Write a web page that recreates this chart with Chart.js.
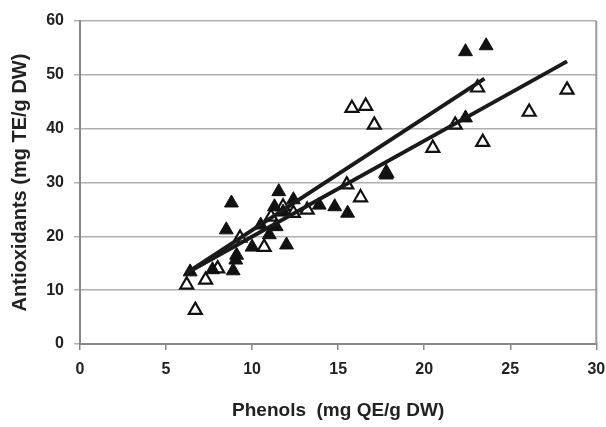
<!DOCTYPE html>
<html lang="en">

<head>
    <meta charset="UTF-8">
    <title>Phenols vs Antioxidants</title>
    <script src="https://cdn.jsdelivr.net/npm/chart.js@4.4.0/dist/chart.umd.min.js"></script>
    <style>
        body { margin: 0; background: #fff; }
        #wrap { width: 606px; height: 427px; }
    </style>
</head>

<body>
    <div id="wrap">
        <canvas id="scatter"></canvas>
    </div>

<script>
    // filled triangles
    const filled_x = [6.4, 7.7, 8.5, 8.8, 8.9, 9.05, 9.1, 10.0, 10.5, 11.0, 11.3, 11.55, 11.4, 11.8, 12.0, 12.4, 13.9, 14.8, 15.55, 17.8, 22.4, 22.4, 23.6];
    const filled_y = [13.4, 13.8, 21.2, 26.2, 13.6, 15.6, 16.5, 18.0, 22.1, 20.3, 25.5, 28.3, 21.8, 24.5, 18.4, 26.8, 25.8, 25.5, 24.3, 31.4, 42.0, 54.3, 55.4];

    // open triangles
    const open_x = [6.2, 6.7, 7.3, 8.0, 9.3, 10.7, 11.1, 11.8, 12.4, 13.2, 15.5, 16.3, 15.8, 16.6, 17.1, 17.8, 20.5, 21.8, 23.1, 23.4, 26.1, 28.3];
    const open_y = [11.0, 6.3, 11.9, 14.0, 19.7, 18.0, 23.6, 25.5, 24.3, 24.9, 29.6, 27.2, 43.8, 44.2, 40.7, 31.8, 36.4, 40.7, 47.6, 37.5, 43.1, 47.2];

    // regression lines (end points)
    const lineA_x = [6.2, 23.5];
    const lineA_y = [13.2, 49.3];
    const lineB_x = [6.2, 28.3];
    const lineB_y = [13.2, 52.5];

    const x_ticks = [0, 5, 10, 15, 20, 25, 30];
    const y_ticks = [0, 10, 20, 30, 40, 50, 60];

    function toPoints(xs, ys) {
        return xs.map((x, i) => ({ x: x, y: ys[i] }));
    }

    // grey frame line on the right side of the plot
    const rightBorder = {
        id: 'rightBorder',
        afterDraw(chart) {
            const { ctx, chartArea } = chart;
            ctx.save();
            ctx.strokeStyle = '#999';
            ctx.lineWidth = 2;
            ctx.beginPath();
            ctx.moveTo(chartArea.right, chartArea.top);
            ctx.lineTo(chartArea.right, chartArea.bottom);
            ctx.stroke();
            ctx.restore();
        }
    };

    const ctx = document.getElementById('scatter').getContext('2d');
    const myChart = new Chart(ctx, {
        type: 'scatter',
        data: {
            datasets: [{
                    type: 'line',
                    data: toPoints(lineA_x, lineA_y),
                    borderColor: '#1a1a1a',
                    borderWidth: 4,
                    pointRadius: 0,
                    fill: false,
                    order: 0,
                },
                {
                    type: 'line',
                    data: toPoints(lineB_x, lineB_y),
                    borderColor: '#1a1a1a',
                    borderWidth: 4,
                    pointRadius: 0,
                    fill: false,
                    order: 0,
                },
                {
                    data: toPoints(filled_x, filled_y),
                    pointStyle: 'triangle',
                    pointRadius: 8,
                    backgroundColor: '#111',
                    borderColor: '#111',
                    borderWidth: 1,
                    order: 1,
                },
                {
                    data: toPoints(open_x, open_y),
                    pointStyle: 'triangle',
                    pointRadius: 7.5,
                    backgroundColor: '#fff',
                    borderColor: '#111',
                    borderWidth: 2.2,
                    order: 2,
                },
            ],
        },
        options: {
            responsive: true,
            maintainAspectRatio: false,
            animation: false,
            layout: {
                padding: { top: 21, right: 9, left: 0, bottom: 0 }
            },
            plugins: {
                legend: { display: false },
                tooltip: { enabled: false },
            },
            scales: {
                x: {
                    type: 'linear',
                    min: 0,
                    max: 30,
                    afterBuildTicks: axis => { axis.ticks = x_ticks.map(v => ({ value: v })); },
                    afterFit: axis => {
                        axis.height = 83;
                        axis.paddingLeft = 0;
                        axis.paddingRight = 0;
                    },
                    grid: {
                        drawOnChartArea: false,
                        drawTicks: true,
                        tickLength: 6,
                        color: '#888',
                        lineWidth: 1.5,
                    },
                    border: { color: '#888', width: 2 },
                    ticks: {
                        color: '#222',
                        padding: 10,
                        maxRotation: 0,
                        font: { family: 'Liberation Sans, Arial', size: 16, weight: 'bold' },
                    },
                    title: {
                        display: true,
                        text: 'Phenols  (mg QE/g DW)',
                        color: '#222',
                        padding: { top: 0, bottom: 5 },
                        font: { family: 'Liberation Sans, Arial', size: 19, weight: 'bold' },
                    }
                },
                y: {
                    type: 'linear',
                    min: 0,
                    max: 60,
                    afterBuildTicks: axis => { axis.ticks = y_ticks.map(v => ({ value: v })); },
                    afterFit: axis => { axis.width = 80; },
                    grid: {
                        color: '#b0b0b0',
                        lineWidth: 1.5,
                        drawTicks: true,
                        tickLength: 6,
                    },
                    border: { color: '#888', width: 2 },
                    ticks: {
                        color: '#222',
                        padding: 10,
                        font: { family: 'Liberation Sans, Arial', size: 16, weight: 'bold' },
                    },
                    title: {
                        display: true,
                        text: 'Antioxidants (mg TE/g DW)',
                        color: '#222',
                        padding: { top: 8, bottom: 0 },
                        font: { family: 'Liberation Sans, Arial', size: 20, weight: 'bold' },
                    }
                }
            }
        },
        plugins: [rightBorder]
    });
</script>

</body>

</html>
